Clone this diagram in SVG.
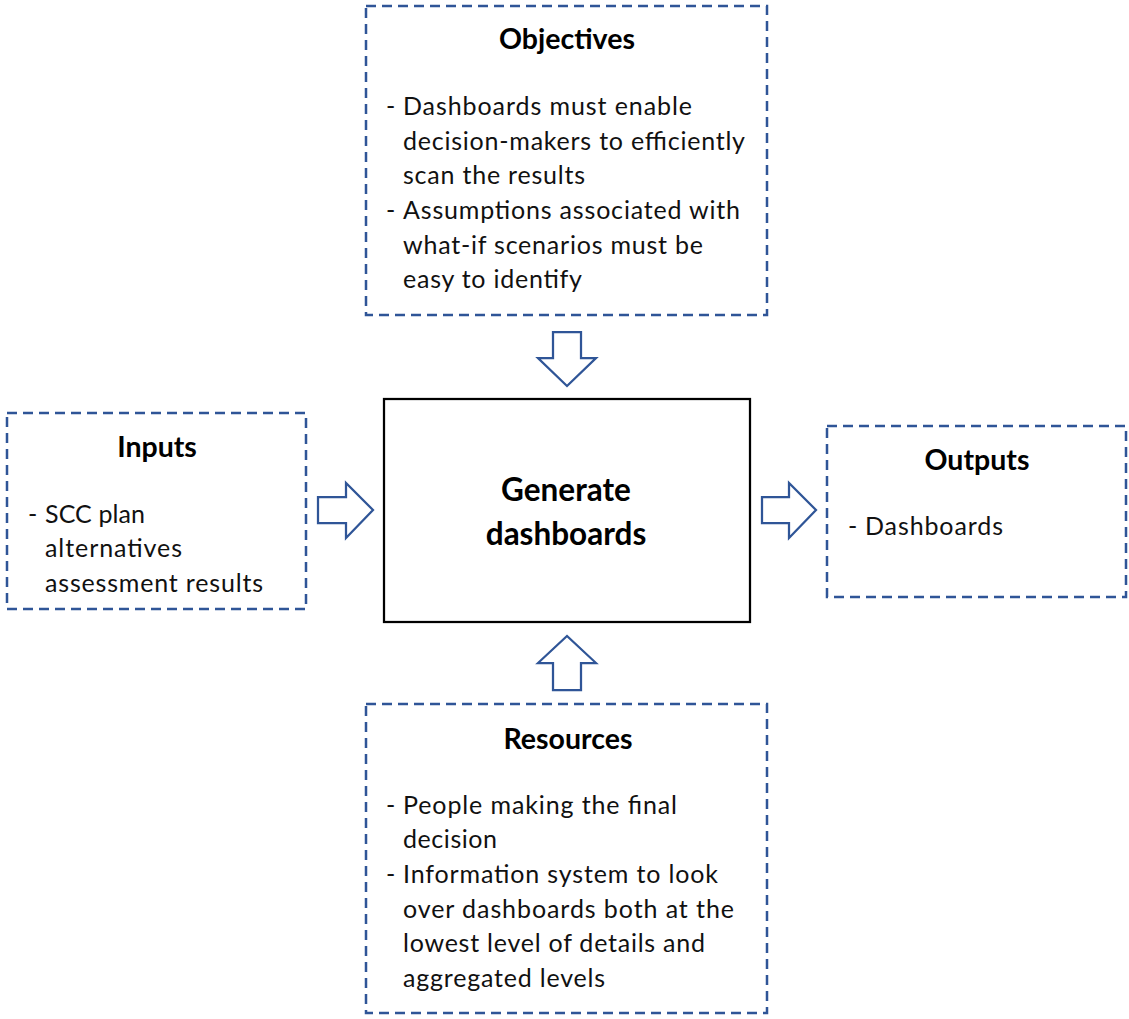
<svg xmlns="http://www.w3.org/2000/svg" width="1129" height="1019" viewBox="0 0 1129 1019">
<style>
.dash{fill:#fff;stroke:#2F5597;stroke-width:2.5;stroke-dasharray:10 6}
.main{fill:#fff;stroke:#000;stroke-width:2.25}
.arr{fill:#fff;stroke:#2F5597;stroke-width:2.25;stroke-linejoin:miter}
.t{font-family:Lato,"Open Sans","Liberation Sans",sans-serif;font-weight:bold;font-size:28.5px;fill:#000;text-anchor:middle}
.c{font-family:Lato,"Open Sans","Liberation Sans",sans-serif;font-weight:bold;font-size:31.5px;fill:#000;text-anchor:middle}
.b{font-family:Lato,"Open Sans","Liberation Sans",sans-serif;font-size:25px;fill:#111}
</style>
<rect width="1129" height="1019" fill="#fff"/>
<g id="objectives">
<rect class="dash" x="366" y="6" width="401" height="309"/>
<text class="t" x="567" y="49">Objectives</text>
<text class="b" x="386" y="115">-</text>
<text class="b" x="403" y="115" textLength="289">Dashboards must enable</text>
<text class="b" x="403" y="150" textLength="342">decision-makers to efficiently</text>
<text class="b" x="403" y="184" textLength="182">scan the results</text>
<text class="b" x="386" y="219">-</text>
<text class="b" x="403" y="219" textLength="337">Assumptions associated with</text>
<text class="b" x="403" y="254" textLength="300">what-if scenarios must be</text>
<text class="b" x="403" y="288" textLength="179">easy to identify</text>
</g>
<g id="inputs">
<rect class="dash" x="7" y="413" width="299" height="196"/>
<text class="t" x="157" y="457">Inputs</text>
<text class="b" x="28" y="523">-</text>
<text class="b" x="45" y="523" textLength="100">SCC plan</text>
<text class="b" x="45" y="557" textLength="137">alternatives</text>
<text class="b" x="45" y="592" textLength="218">assessment results</text>
</g>
<g id="process">
<rect class="main" x="384" y="399" width="366" height="223"/>
<text class="c" x="566" y="501">Generate</text>
<text class="c" x="566" y="545">dashboards</text>
</g>
<g id="outputs">
<rect class="dash" x="827" y="426" width="299" height="171"/>
<text class="t" x="977" y="470">Outputs</text>
<text class="b" x="848" y="535">-</text>
<text class="b" x="865" y="535" textLength="138">Dashboards</text>
</g>
<g id="resources">
<rect class="dash" x="366" y="704" width="401" height="309"/>
<text class="t" x="568" y="749">Resources</text>
<text class="b" x="386" y="814">-</text>
<text class="b" x="403" y="814" textLength="274">People making the final</text>
<text class="b" x="403" y="848" textLength="94">decision</text>
<text class="b" x="386" y="883">-</text>
<text class="b" x="403" y="883" textLength="315">Information system to look</text>
<text class="b" x="403" y="918" textLength="331">over dashboards both at the</text>
<text class="b" x="403" y="952" textLength="302">lowest level of details and</text>
<text class="b" x="403" y="987" textLength="202">aggregated levels</text>
</g>
<g id="connectors">
<polygon class="arr" points="553,332 581,332 581,358 596,358 567,386 538,358 553,358"/>
<polygon class="arr" points="553,690 581,690 581,663 596,663 567,636 538,663 553,663"/>
<polygon class="arr" points="318,497 346,497 346,483 373,510 346,538 346,523 318,523"/>
<polygon class="arr" points="762,497 789,497 789,483 816,510 789,538 789,523 762,523"/>
</g>
</svg>
